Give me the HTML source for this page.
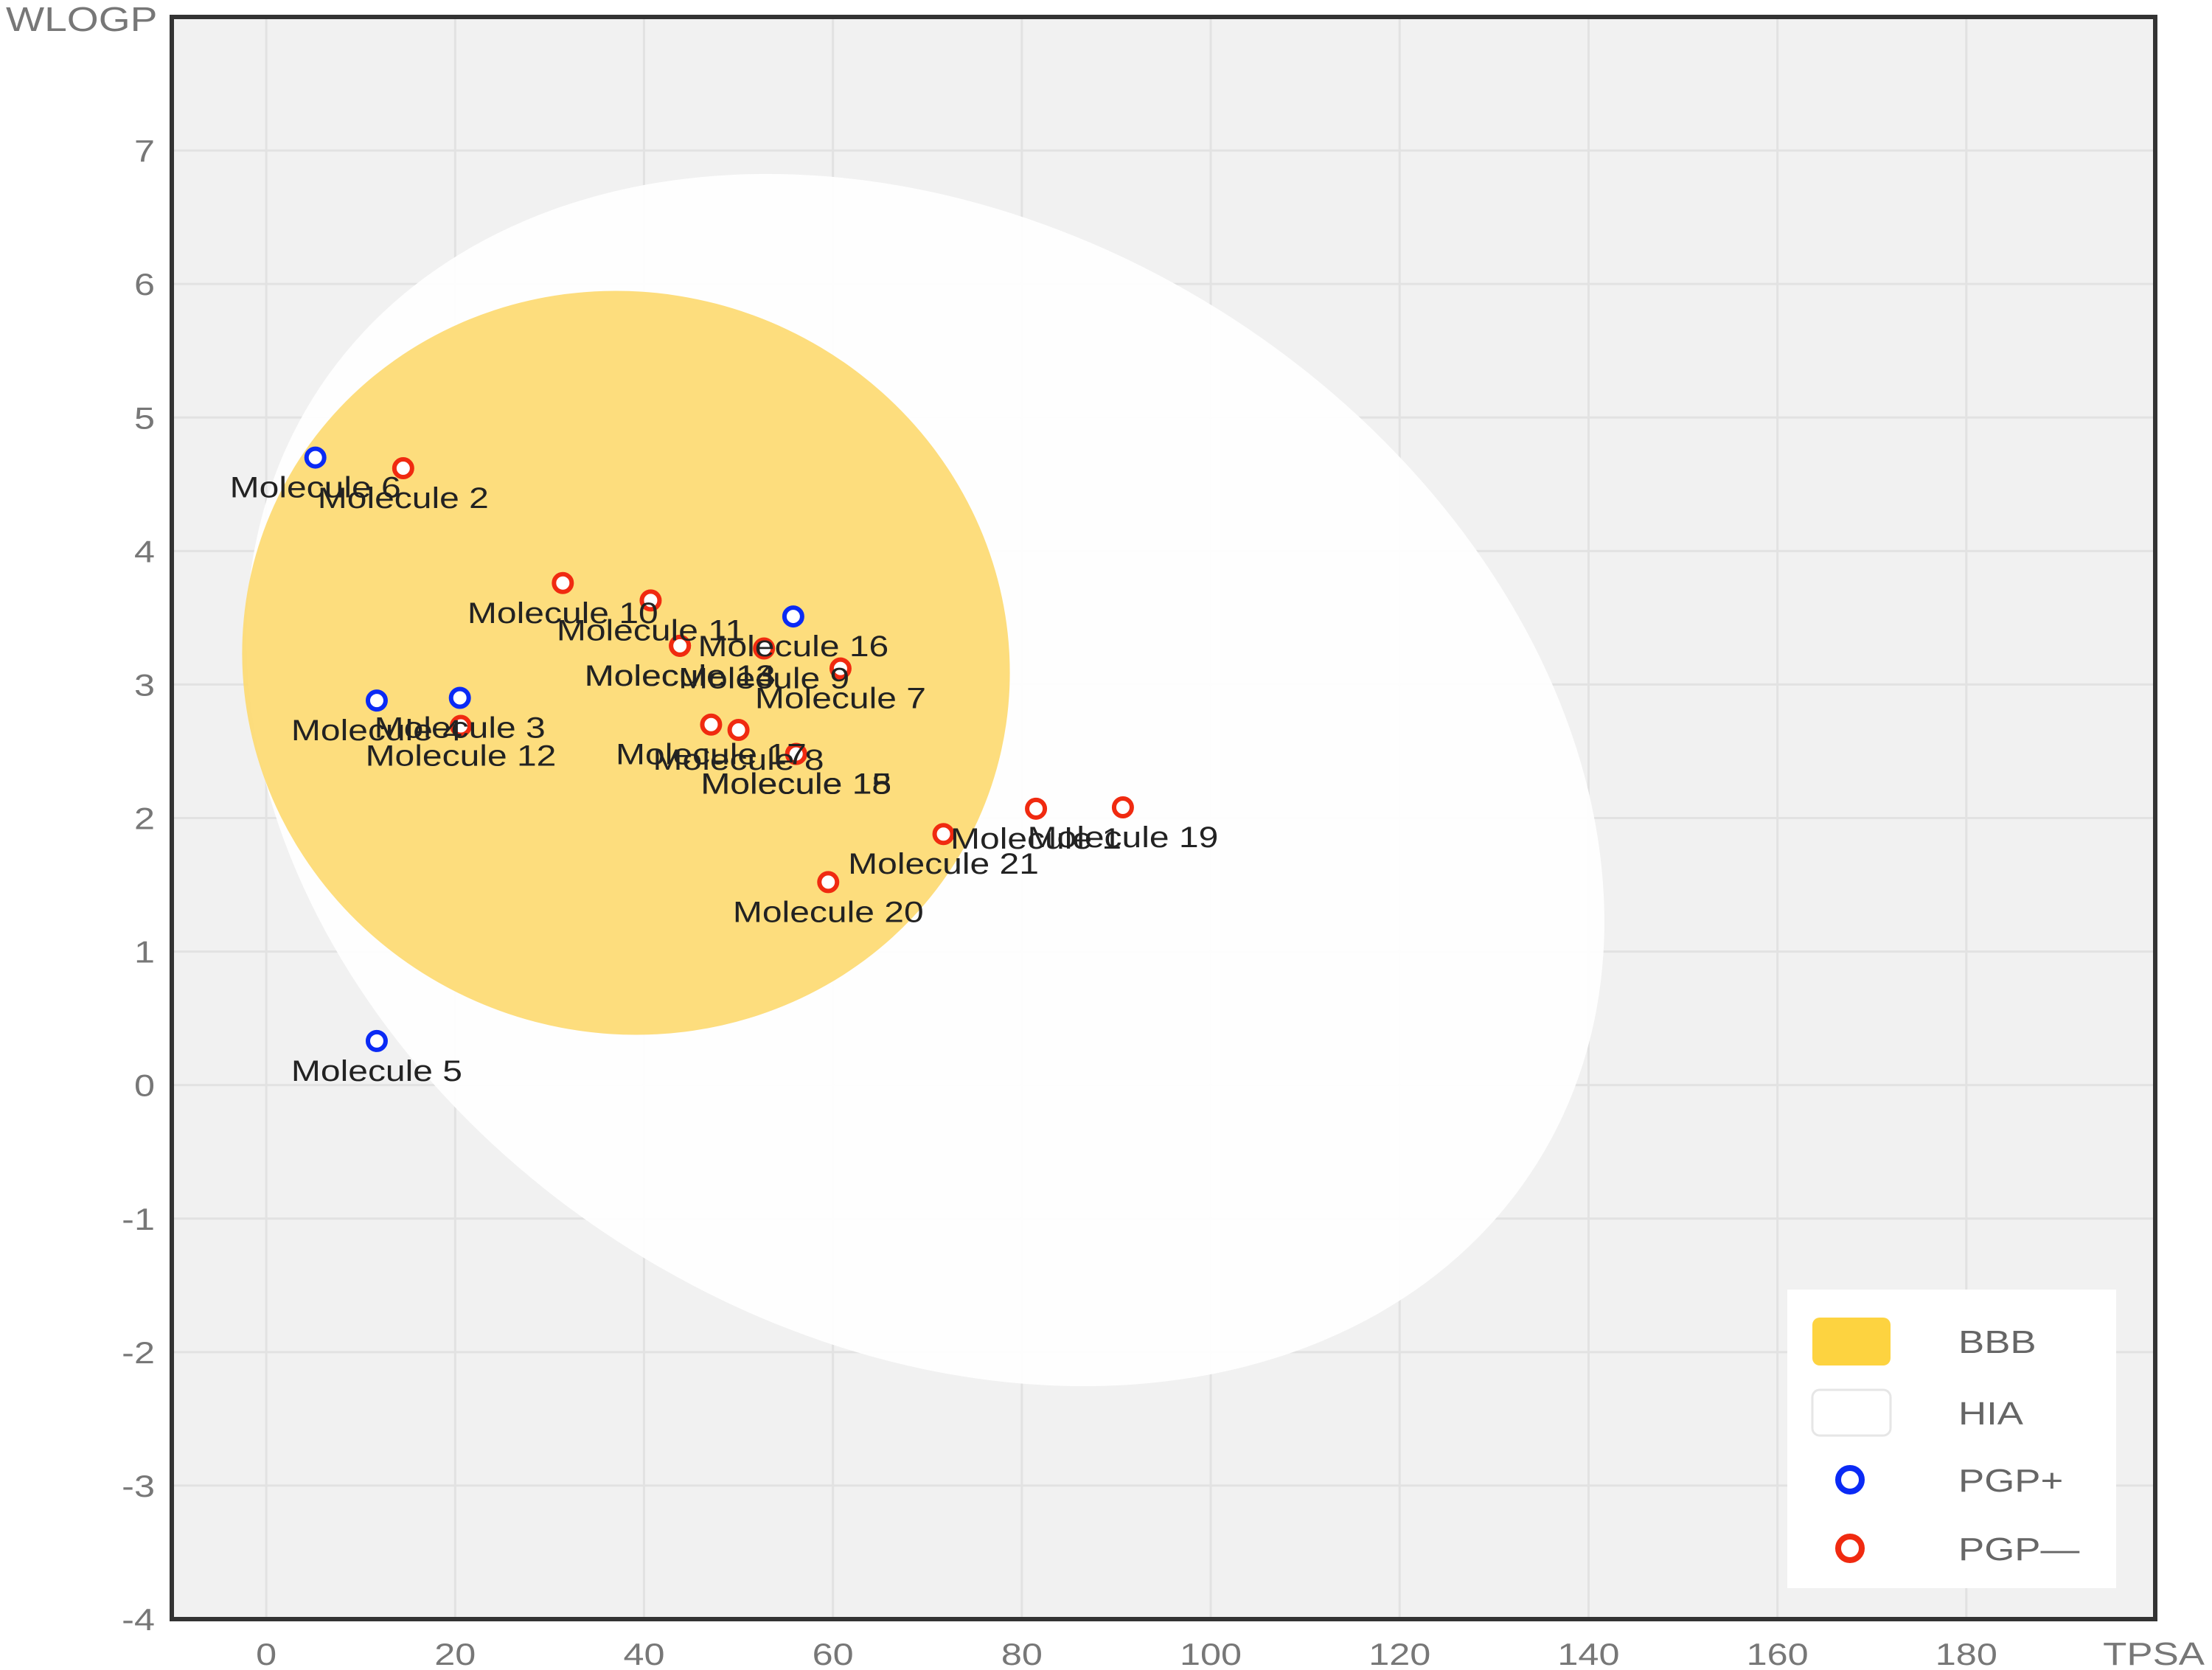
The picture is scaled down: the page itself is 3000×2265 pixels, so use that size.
<!DOCTYPE html>
<html><head><meta charset="utf-8"><style>
html,body{margin:0;padding:0;background:#fff;}
svg{display:block;font-family:"Liberation Sans",Arial,sans-serif;}
</style></head><body>
<svg id="chart" width="3000" height="2265" viewBox="0 0 3000 2265" xmlns="http://www.w3.org/2000/svg">
<rect x="233" y="23" width="2690" height="2173" fill="#f1f1f1"/>
<g id="grid"></g>
<ellipse cx="1255" cy="1058" rx="979" ry="752" transform="rotate(32 1255 1058)" fill="#ffffff" fill-opacity="0.93"/>
<ellipse cx="849" cy="899" rx="523" ry="502" transform="rotate(20 849 899)" fill="#fdd96f" fill-opacity="0.9"/>
<g id="points"></g>
<g id="labels"></g>
<rect x="233" y="23" width="2690" height="2173" fill="none" stroke="#333" stroke-width="6"/>
<g id="ticks"></g>
<g transform="translate(8,42) scale(1.2,1)"><text x="0" y="0" font-size="46" fill="#777">WLOGP</text></g>
<g transform="translate(2990,2258) scale(1.2,1)"><text x="0" y="0" font-size="44" fill="#777" text-anchor="end">TPSA</text></g>
<g>
<rect x="2424" y="1749" width="446" height="405" fill="#fff"/>
<rect x="2458" y="1787" width="106" height="65" rx="10" fill="#fdd340"/>
<g transform="translate(2656,1835) scale(1.2,1)"><text font-size="44" fill="#666">BBB</text></g>
<rect x="2458" y="1885" width="106" height="62" rx="10" fill="#fff" stroke="#e6e6e6" stroke-width="3"/>
<g transform="translate(2656,1932) scale(1.2,1)"><text font-size="44" fill="#666">HIA</text></g>
<circle cx="2509" cy="2007" r="16" fill="#fff" stroke="#0a2af5" stroke-width="8"/>
<g transform="translate(2656,2023) scale(1.2,1)"><text font-size="44" fill="#666">PGP+</text></g>
<circle cx="2509" cy="2100" r="16" fill="#fff" stroke="#f02a10" stroke-width="8"/>
<g transform="translate(2656,2116) scale(1.2,1)"><text font-size="44" fill="#666">PGP—</text></g>
</g>
</svg>
<script>
const names = ["Molecule 1","Molecule 2","Molecule 3","Molecule 4","Molecule 5","Molecule 6","Molecule 7","Molecule 8","Molecule 9","Molecule 10","Molecule 11","Molecule 12","Molecule 13","Molecule 14","Molecule 15","Molecule 16","Molecule 17","Molecule 18","Molecule 19","Molecule 20","Molecule 21"];
const tpsa = [81.5,14.5,20.5,11.7,11.7,5.2,60.8,50.0,52.7,31.4,40.7,20.6,43.8,43.8,56.1,55.8,47.1,56.1,90.7,59.5,71.7];
const wlogp = [2.07,4.62,2.90,2.88,0.33,4.70,3.12,2.66,3.27,3.76,3.63,2.69,3.29,3.29,2.48,3.51,2.70,2.48,2.08,1.52,1.88];
const pgp = ["-","-","+","+","+","+","-","-","-","-","-","-","-","-","-","+","-","-","-","-","-"];
const xTicks = [0,20,40,60,80,100,120,140,160,180];
const yTicks = [-4,-3,-2,-1,0,1,2,3,4,5,6,7];
const xDomain = [-10,200], yDomain = [-4,8];
const L=233,R=2923,T=23,B=2196;
const ns="http://www.w3.org/2000/svg";
function sx(v){return L+(v-xDomain[0])/(xDomain[1]-xDomain[0])*(R-L);}
function sy(v){return B-(v-yDomain[0])/(yDomain[1]-yDomain[0])*(B-T);}
function mk(tag,attrs){const e=document.createElementNS(ns,tag);for(const k in attrs)e.setAttribute(k,attrs[k]);return e;}
const grid=document.getElementById('grid'),ticks=document.getElementById('ticks');
const pts=document.getElementById('points'),labs=document.getElementById('labels');
xTicks.forEach(v=>{
  const g=mk('line',{x1:sx(v),x2:sx(v),y1:T,y2:B,stroke:'#e2e2e2','stroke-width':3});
  
  
  grid.appendChild(g);
});
yTicks.forEach(v=>{
  const g=mk('line',{x1:L,x2:R,y1:sy(v),y2:sy(v),stroke:'#e2e2e2','stroke-width':3});
  
  
  grid.appendChild(g);
});
xTicks.forEach(v=>{
  const g=mk('g',{transform:`translate(${sx(v)},2258) scale(1.2,1)`});
  
  
  const t=mk('text',{'font-size':42,fill:'#777','text-anchor':'middle'});t.textContent=v;g.appendChild(t);ticks.appendChild(g);
});
yTicks.forEach(v=>{
  const g=mk('g',{transform:`translate(210,${sy(v)+15}) scale(1.2,1)`});
  
  
  const t=mk('text',{'font-size':42,fill:'#777','text-anchor':'end'});t.textContent=v;g.appendChild(t);ticks.appendChild(g);
});
names.forEach((n,i)=>{
  const c=mk('circle',{cx:sx(tpsa[i]),cy:sy(wlogp[i]),r:12,fill:'#fff',stroke:pgp[i]==='+'?'#0a2af5':'#f02a10','stroke-width':6});
  
  
  pts.appendChild(c);
  const g=mk('g',{transform:`translate(${sx(tpsa[i])},${sy(wlogp[i])+54}) scale(1.2,1)`});
  
  
  const t=mk('text',{'font-size':40,fill:'#222','text-anchor':'middle'});t.textContent=n;g.appendChild(t);labs.appendChild(g);
});
</script>
</body></html>
